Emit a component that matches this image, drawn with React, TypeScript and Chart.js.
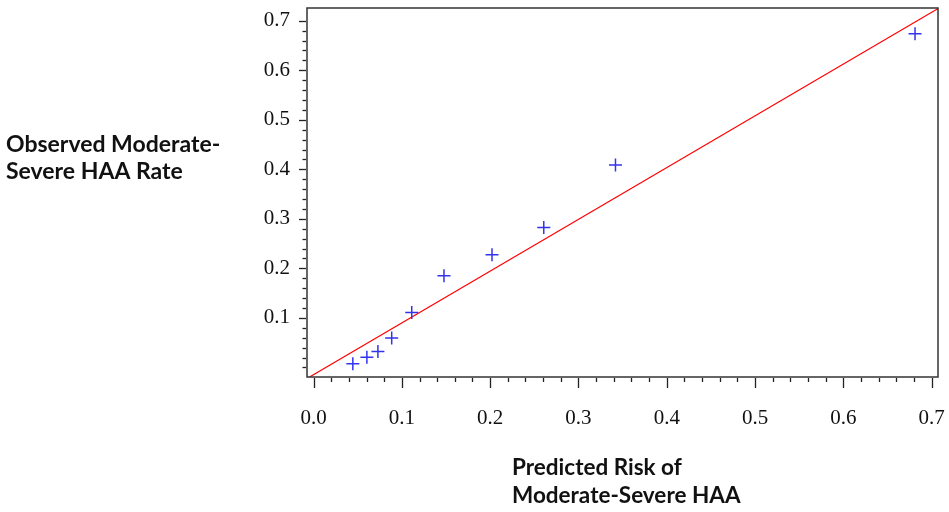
import React, { useEffect, useRef } from "react";
import { Chart, registerables } from "chart.js";

Chart.register(...registerables);

// Observed vs predicted points (blue crosses)
const predictedRisk = [0.0445, 0.0604, 0.0729, 0.0885, 0.1112, 0.1477, 0.2021, 0.2607, 0.3419, 0.6811];
const observedRate = [0.0074, 0.0205, 0.0321, 0.0594, 0.1108, 0.1852, 0.2274, 0.2824, 0.4086, 0.6738];

// Red reference line end points
const lineX = [-0.0045, 0.7068];
const lineY = [-0.0193, 0.7243];

// Axis ticks
const xTickValues = [0.0, 0.1, 0.2, 0.3, 0.4, 0.5, 0.6, 0.7];
const yTickValues = [0.1, 0.2, 0.3, 0.4, 0.5, 0.6, 0.7];
const xRange = [-0.0074, 0.7071];
const yRange = [-0.0193, 0.7257];

const yTitleLines = ["Observed Moderate-", "Severe HAA Rate"];
const xTitleLines = ["Predicted Risk of", "Moderate-Severe HAA"];

const framePlugin = {
  id: "frameTicks",
  afterDraw(chart: any) {
    const { ctx, chartArea, scales } = chart;
    const xs = scales.x;
    const ys = scales.y;
    ctx.save();
    // frame
    ctx.strokeStyle = "#333";
    ctx.lineWidth = 1.5;
    ctx.strokeRect(chartArea.left, chartArea.top, chartArea.right - chartArea.left, chartArea.bottom - chartArea.top);
    // ticks
    ctx.lineWidth = 1.3;
    ctx.strokeStyle = "#222";
    for (let i = 0; i <= 35; i++) {
      const v = i * 0.02;
      const major = i % 5 === 0;
      const px = Math.round(xs.getPixelForValue(v)) + 0.5;
      ctx.beginPath();
      ctx.moveTo(px, chartArea.bottom + 1);
      ctx.lineTo(px, chartArea.bottom + 1 + (major ? 10 : 4));
      ctx.stroke();
      const py = Math.round(ys.getPixelForValue(v)) + 0.5;
      const ymajor = major && i > 0;
      ctx.beginPath();
      ctx.moveTo(chartArea.left - 1, py);
      ctx.lineTo(chartArea.left - 1 - (ymajor ? 7 : 3.5), py);
      ctx.stroke();
    }
    // titles
    ctx.fillStyle = "#111";
    ctx.textAlign = "left";
    ctx.textBaseline = "alphabetic";
    ctx.font = "bold 23px Lato";
    ctx.fillText(yTitleLines[0], 6, 152);
    ctx.fillText(yTitleLines[1], 6, 179);
    ctx.font = "bold 22.5px Lato";
    ctx.fillText(xTitleLines[0], 512, 475);
    ctx.fillText(xTitleLines[1], 512, 503);
    ctx.restore();
  },
};

export default function App() {
  const canvasRef = useRef<HTMLCanvasElement | null>(null);

  useEffect(() => {
    if (!canvasRef.current) return;
    const chart = new Chart(canvasRef.current, {
      type: "scatter",
      data: {
        datasets: [
          {
            type: "line",
            label: "reference",
            data: lineX.map((x, i) => ({ x, y: lineY[i] })),
            borderColor: "#ff0000",
            borderWidth: 1.2,
            pointRadius: 0,
            fill: false,
            order: 2,
          } as any,
          {
            label: "observed",
            data: predictedRisk.map((x, i) => ({ x, y: observedRate[i] })),
            pointStyle: "cross",
            pointRadius: 6.5,
            pointBorderWidth: 1.5,
            borderColor: "#3333ee",
            backgroundColor: "#3333ee",
            order: 1,
          },
        ],
      },
      options: {
        animation: false,
        responsive: true,
        maintainAspectRatio: false,
        layout: { padding: { top: 6, right: 11, left: 0, bottom: 0 } },
        plugins: { legend: { display: false }, tooltip: { enabled: false } },
        scales: {
          x: {
            type: "linear",
            min: xRange[0],
            max: xRange[1],
            grid: { display: false, drawTicks: false },
            border: { display: false },
            afterBuildTicks: (scale: any) => {
              scale.ticks = xTickValues.map((value) => ({ value }));
            },
            afterFit: (scale: any) => {
              scale.height = 135;
              scale.paddingLeft = 0;
              scale.paddingRight = 0;
            },
            ticks: {
              padding: 29,
              color: "#111",
              font: { family: "'Liberation Serif', 'Times New Roman', serif", size: 21 },
              callback: (v: any) => Number(v).toFixed(1),
              maxRotation: 0,
            },
          },
          y: {
            type: "linear",
            min: yRange[0],
            max: yRange[1],
            grid: { display: false, drawTicks: false },
            border: { display: false },
            afterBuildTicks: (scale: any) => {
              scale.ticks = yTickValues.map((value) => ({ value }));
            },
            afterFit: (scale: any) => {
              scale.width = 307;
              scale.paddingTop = 0;
              scale.paddingBottom = 0;
            },
            ticks: {
              padding: 17,
              color: "#111",
              font: { family: "'Liberation Serif', 'Times New Roman', serif", size: 21 },
              callback: (v: any) => Number(v).toFixed(1),
            },
          },
        },
      },
      plugins: [framePlugin],
    });
    return () => chart.destroy();
  }, []);

  return (
    <div style={{ position: "fixed", left: 0, top: 0, width: 949, height: 512, background: "#fff" }}>
      <canvas ref={canvasRef} />
    </div>
  );
}
